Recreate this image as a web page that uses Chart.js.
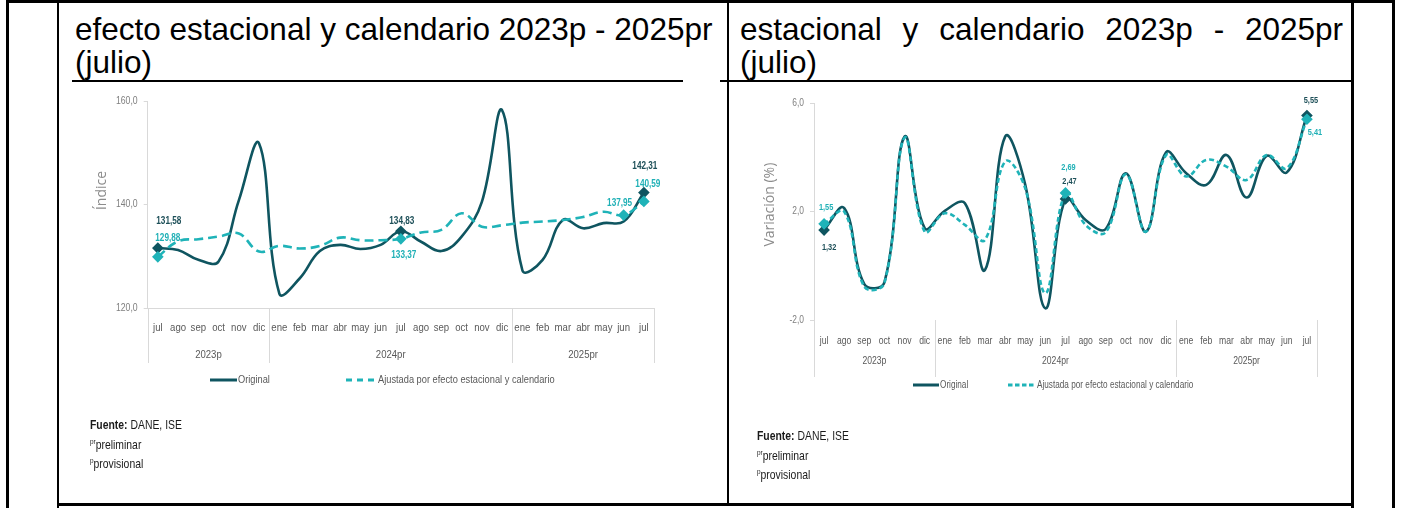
<!DOCTYPE html>
<html>
<head>
<meta charset="utf-8">
<script src="https://cdn.jsdelivr.net/npm/chart.js@4.4.1/dist/chart.umd.min.js"></script>
<style>
  body { margin: 0; width: 1408px; height: 508px; background: #fff; position: relative; overflow: hidden; font-family: "Liberation Sans", Arial, sans-serif; }
  .ln { position: absolute; background: #000; }
  .hd { position: absolute; font-size: 31.5px; line-height: 33px; color: #000; }
  canvas { position: absolute; }
  .lg { position: absolute; color: #595959; white-space: nowrap; }
  .lg svg { position: absolute; }
  .sq { position: absolute; display: inline-block; transform: scaleX(0.82); transform-origin: 0 50%; white-space: nowrap; }
  .fn { position: absolute; color: #1a1a1a; font-size: 13px; line-height: 19.5px; white-space: nowrap; transform: scaleX(0.8); transform-origin: 0 0; }
  .fn sup { font-size: 8px; vertical-align: 5px; line-height: 0; }
</style>
</head>
<body>

<!-- table borders -->
<div class="ln" style="left:6px;top:0;width:1389px;height:3px"></div>
<div class="ln" style="left:6px;top:0;width:2.5px;height:508px"></div>
<div class="ln" style="left:57px;top:0;width:2px;height:508px"></div>
<div class="ln" style="left:727px;top:0;width:2px;height:505px"></div>
<div class="ln" style="left:1351px;top:0;width:2.5px;height:508px"></div>
<div class="ln" style="left:1392px;top:0;width:3px;height:508px"></div>
<div class="ln" style="left:72px;top:80px;width:611px;height:1.5px"></div>
<div class="ln" style="left:720px;top:80px;width:632px;height:1.5px"></div>
<div class="ln" style="left:57px;top:503px;width:1296px;height:3px"></div>

<div class="hd" style="left:75px;top:13px;width:660px">efecto estacional y calendario 2023p - 2025pr (julio)</div>
<div class="hd" style="left:740px;top:13px;width:603px;text-align:justify;text-align-last:left">estacional y calendario 2023p - 2025pr (julio)</div>

<canvas id="indiceChart" width="670" height="424" style="left:58px;top:81px"></canvas>
<canvas id="variacionChart" width="624" height="424" style="left:728px;top:81px"></canvas>

<!-- legends -->
<div class="lg" style="left:0;top:0;font-size:11.3px">
  <svg style="left:210px;top:378px" width="27" height="4"><line x1="0" y1="2" x2="27" y2="2" stroke="#0f5560" stroke-width="3"/></svg>
  <span class="sq" style="left:238px;top:373px">Original</span>
  <svg style="left:346px;top:378px" width="31" height="4"><line x1="0" y1="2" x2="31" y2="2" stroke="#1fb3b8" stroke-width="3" stroke-dasharray="6,5"/></svg>
  <span class="sq" style="left:378px;top:373px">Ajustada por efecto estacional y calendario</span>
</div>
<div class="lg" style="left:0;top:0;font-size:10px">
  <svg style="left:913px;top:383px" width="26" height="4"><line x1="0" y1="2" x2="26" y2="2" stroke="#0f5560" stroke-width="3"/></svg>
  <span class="sq" style="left:940px;top:379px">Original</span>
  <svg style="left:1008px;top:383px" width="28" height="4"><line x1="0" y1="2" x2="28" y2="2" stroke="#1fb3b8" stroke-width="3" stroke-dasharray="4.5,2.5"/></svg>
  <span class="sq" style="left:1037px;top:379px">Ajustada por efecto estacional y calendario</span>
</div>

<!-- footnotes -->
<div class="fn" style="left:90px;top:415px"><b>Fuente:</b> DANE, ISE<br><sup>pr</sup>preliminar<br><sup>p</sup>provisional</div>
<div class="fn" style="left:757px;top:426px"><b>Fuente:</b> DANE, ISE<br><sup>pr</sup>preliminar<br><sup>p</sup>provisional</div>

<script>
// months jul 2023 - jul 2025
const months = ["jul","ago","sep","oct","nov","dic","ene","feb","mar","abr","may","jun",
                "jul","ago","sep","oct","nov","dic","ene","feb","mar","abr","may","jun","jul"];
const yearGroups = ["2023p", "2024pr", "2025pr"];
const yearStarts = [0, 6, 18];

// Índice (left)
const indiceOriginal = [131.58, 131.2, 129.3, 129.0, 140.8, 151.8, 122.8, 125.7, 131.0, 132.2, 131.4, 132.2,
                        134.83, 132.8, 131.0, 133.8, 140.5, 158.2, 127.3, 129.3, 137.0, 135.4, 136.4, 136.7, 142.31];
const indiceAjustada = [129.88, 132.9, 133.3, 133.8, 134.4, 130.9, 132.0, 131.5, 132.0, 133.6, 133.1, 133.1,
                        133.37, 134.6, 135.1, 138.3, 135.7, 136.0, 136.5, 136.7, 137.0, 137.6, 138.6, 137.95, 140.59];

// Variación % (right)
const variacionOriginal = [1.32, 2.13, -0.68, -0.61, 4.77, 1.39, 2.03, 2.31, -0.15, 4.77, 2.99, -1.57,
                           2.47, 1.69, 1.36, 3.42, 1.26, 4.19, 3.42, 2.99, 4.09, 2.52, 4.06, 3.45, 5.55];
const variacionAjustada = [1.55, 2.00, -0.77, -0.64, 4.73, 1.26, 1.94, 1.51, 0.96, 3.85, 2.86, -1.01,
                           2.69, 1.51, 1.24, 3.38, 1.26, 4.09, 3.30, 3.91, 3.66, 3.17, 4.09, 3.60, 5.41];

const DARK = "#0f5560";
const TEAL = "#1fb3b8";
const FONT = "'Liberation Sans', Arial, sans-serif";
const SQ = 0.82; // no narrow font installed, squeeze horizontally

Chart.defaults.animation = false;

function fmt(v, d) { return v.toFixed(d).replace(".", ","); }

function squeezed(ctx, text, x, y) {
  ctx.save();
  ctx.translate(x, y);
  ctx.scale(SQ, 1);
  ctx.fillText(text, 0, 0);
  ctx.restore();
}

// tick labels, group labels, separators, value labels and y title
const extras = {
  id: "extras",
  afterDatasetsDraw(chart, args, o) {
    const ctx = chart.ctx, x = chart.scales.x, y = chart.scales.y, a = chart.chartArea;
    ctx.save();
    const bounds = [a.left];
    yearStarts.slice(1).forEach(s => bounds.push((x.getPixelForValue(s - 1) + x.getPixelForValue(s)) / 2));
    bounds.push(a.right);
    ctx.strokeStyle = "#d9d9d9";
    ctx.lineWidth = 1;
    bounds.forEach(b => {
      ctx.beginPath();
      ctx.moveTo(Math.round(b) + 0.5, a.bottom);
      ctx.lineTo(Math.round(b) + 0.5, a.bottom + o.sepLen);
      ctx.stroke();
    });

    ctx.textBaseline = "middle";
    ctx.textAlign = "center";
    ctx.fillStyle = "#595959";
    ctx.font = o.tickSize + "px " + FONT;
    months.forEach((m, i) => squeezed(ctx, m, x.getPixelForValue(i), a.bottom + o.monthY));
    yearGroups.forEach((g, k) => squeezed(ctx, g, (bounds[k] + bounds[k + 1]) / 2, a.bottom + o.groupY));

    ctx.textAlign = "right";
    ctx.fillStyle = "#7f7f7f";
    ctx.font = o.ySize + "px " + FONT;
    y.ticks.forEach(t => squeezed(ctx, fmt(t.value, 1), a.left - 10, y.getPixelForValue(t.value)));

    ctx.textAlign = "center";
    ctx.font = "bold " + o.labelSize + "px " + FONT;
    o.labels.forEach(L => {
      const p = chart.getDatasetMeta(L.ds).data[L.i];
      const ds = chart.data.datasets[L.ds];
      ctx.fillStyle = ds.labelColor;
      squeezed(ctx, fmt(ds.data[L.i], 2), p.x + L.dx, p.y + L.dy);
    });

    ctx.fillStyle = "#8c8c8c";
    ctx.font = "14px 'Open Sans', sans-serif";
    ctx.translate(a.left + o.titleDx, (a.top + a.bottom) / 2 + o.titleDy);
    ctx.rotate(-Math.PI / 2);
    ctx.fillText(o.title, 0, 0);
    ctx.restore();
  }
};

function makeChart(id, orig, ajus, opt) {
  const marked = ds => opt.labels.filter(L => L.ds === ds).map(L => L.i);
  const radius = ds => c => marked(ds).includes(c.dataIndex) ? 4 : 0;
  return new Chart(document.getElementById(id), {
    type: "line",
    data: {
      labels: months,
      datasets: [
        { label: "Original", data: orig, borderColor: DARK, backgroundColor: DARK, labelColor: "#1d4f58",
          borderWidth: 2.6, tension: 0.4, pointStyle: "rectRot", pointRadius: radius(0), order: 1 },
        { label: "Ajustada por efecto estacional y calendario", data: ajus, borderColor: TEAL, backgroundColor: TEAL,
          labelColor: "#1fb0b6", borderWidth: 2.6, borderDash: opt.dash, tension: 0.4, pointStyle: "rectRot",
          pointRadius: radius(1), order: 0 }
      ]
    },
    options: {
      responsive: false,
      layout: { padding: opt.padding },
      plugins: { legend: { display: false }, tooltip: { enabled: false }, extras: opt },
      scales: {
        x: {
          offset: true,
          afterFit: s => { s.height = 40; },
          grid: { display: false },
          border: { display: opt.xBorder, color: "#d9d9d9" },
          ticks: { display: false, autoSkip: false }
        },
        y: {
          min: opt.min, max: opt.max,
          afterFit: s => { s.width = 40; },
          border: { color: "#d9d9d9" },
          grid: {
            drawOnChartArea: opt.zeroLine,
            color: c => (opt.zeroLine && c.tick && c.tick.value === 0) ? "#d9d9d9" : "rgba(0,0,0,0)",
            tickColor: "#d9d9d9", tickLength: 4
          },
          ticks: { display: false, stepSize: opt.step }
        }
      }
    },
    plugins: [extras]
  });
}

makeChart("indiceChart", indiceOriginal, indiceAjustada, {
  padding: { left: 49.7, right: 74, top: 20, bottom: 157 },
  min: 120, max: 160, step: 20, zeroLine: false, xBorder: true,
  dash: [9, 5], tickSize: 11.7, monthY: 20, ySize: 10.6, labelSize: 10,
  sepLen: 55, groupY: 47, title: "Índice", titleDx: -46, titleDy: -14,
  labels: [
    { ds: 0, i: 0, dx: 11, dy: -27 }, { ds: 1, i: 0, dx: 10, dy: -19 },
    { ds: 0, i: 12, dx: 1, dy: -10 }, { ds: 1, i: 12, dx: 3, dy: 16 },
    { ds: 1, i: 23, dx: -4, dy: -12 },
    { ds: 0, i: 24, dx: 1, dy: -26 }, { ds: 1, i: 24, dx: 4, dy: -17 }
  ]
});

makeChart("variacionChart", variacionOriginal, variacionAjustada, {
  padding: { left: 46, right: 35, top: 22.3, bottom: 145 },
  min: -2, max: 6, step: 4, zeroLine: true, xBorder: false,
  dash: [5, 3], tickSize: 10.5, monthY: 21, ySize: 10.3, labelSize: 9,
  sepLen: 57, groupY: 41, title: "Variación (%)", titleDx: -44, titleDy: -7,
  labels: [
    { ds: 0, i: 0, dx: 5, dy: 17 }, { ds: 1, i: 0, dx: 2, dy: -16 },
    { ds: 0, i: 12, dx: 4, dy: -17 }, { ds: 1, i: 12, dx: 3, dy: -25 },
    { ds: 0, i: 24, dx: 4, dy: -15 }, { ds: 1, i: 24, dx: 8, dy: 13 }
  ]
});
</script>
</body>
</html>
